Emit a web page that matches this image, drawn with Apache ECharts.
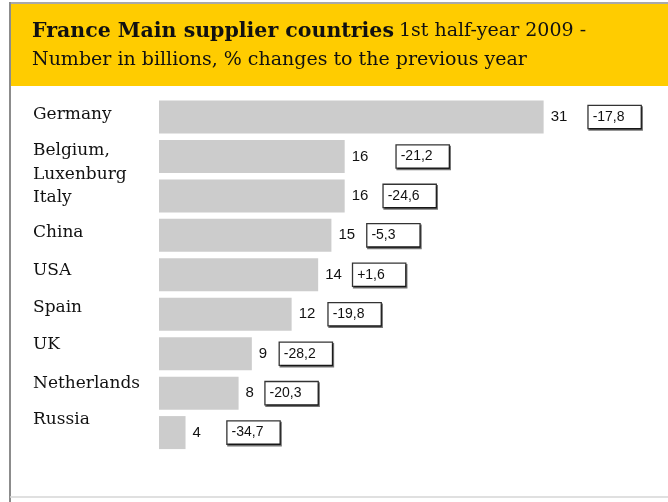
<!DOCTYPE html>
<html>
<head>
<meta charset="utf-8">
<script src="https://cdn.jsdelivr.net/npm/echarts@6/dist/echarts.min.js"></script>
<style>
  html, body { margin: 0; padding: 0; background: #fff; }
  #chart { width: 668px; height: 502px; }
</style>
</head>
<body>
<div id="chart"></div>
<script>
// Main supplier countries of France, 1st half-year 2009
const countries = ['Germany', 'Belgium, Luxenburg', 'Italy', 'China', 'USA', 'Spain', 'UK', 'Netherlands', 'Russia'];
const imports = [31, 16, 16, 15, 14, 12, 9, 8, 4];            // billions
const changes = [-17.8, -21.2, -24.6, -5.3, 1.6, -19.8, -28.2, -20.3, -34.7]; // % vs previous year

// Layout tweaks per row (pixels)
const labelShift = [-2, 6, 2, -2.5, -4, -7, -9, -10, -12.5]; // vertical nudge of country names
const numberSlot = [38, 45, 32, 29, 28, 30, 21, 20, 35];     // space between value and change box

function fmtChange(v) {
  const s = Math.abs(v).toFixed(1).replace('.', ',');
  return (v > 0 ? '+' : '-') + s;
}

const rich = {
  box: {
    fontFamily: 'Liberation Sans, Arial, sans-serif',
    fontSize: 14,
    color: '#111',
    width: 44,
    height: 20,
    lineHeight: 20,
    padding: [1, 4],
    align: 'left',
    backgroundColor: '#fff',
    borderColor: '#333',
    borderWidth: 1.3,
    shadowColor: 'rgba(0,0,0,0.55)',
    shadowOffsetX: 1,
    shadowOffsetY: 1.5,
    shadowBlur: 0
  }
};
numberSlot.forEach((w, i) => {
  rich['n' + i] = {
    fontFamily: 'Liberation Sans Narrow, Liberation Sans, Arial, sans-serif',
    fontSize: 15,
    color: '#111',
    width: w,
    align: 'left'
  };
});

const catRich = {};
labelShift.forEach((d, i) => {
  catRich['c' + i] = {
    fontFamily: 'DejaVu Serif, serif',
    fontSize: 17,
    lineHeight: 24,
    color: '#111',
    padding: d < 0 ? [0, 0, -2 * d, 0] : [2 * d, 0, 0, 0]
  };
});

const chart = echarts.init(document.getElementById('chart'), null, { renderer: 'canvas' });

chart.setOption({
  animation: false,
  backgroundColor: '#fff',
  graphic: [
    { type: 'rect', z: 0, silent: true, shape: { x: 10, y: 4, width: 658, height: 82 }, style: { fill: '#FFCC00' } },
    { type: 'line', z: 1, silent: true, shape: { x1: 10, y1: 3, x2: 668, y2: 3 }, style: { stroke: '#8c8c8c', lineWidth: 1.5 } },
    { type: 'line', z: 1, silent: true, shape: { x1: 10, y1: 2, x2: 10, y2: 502 }, style: { stroke: '#8c8c8c', lineWidth: 2 } },
    { type: 'line', z: 1, silent: true, shape: { x1: 10, y1: 497, x2: 668, y2: 497 }, style: { stroke: '#d6d6d6', lineWidth: 1.5 } }
  ],
  title: {
    z: 10,
    left: 27,
    top: 12,
    text: '{a|France Main supplier countries} {b|1st half-year 2009 -}\n{b|Number in billions, % changes to the previous year}',
    textStyle: {
      fontWeight: 'normal',
      rich: {
        a: { fontFamily: 'DejaVu Serif, serif', fontSize: 20.5, fontWeight: 'bold', color: '#111', lineHeight: 29 },
        b: { fontFamily: 'DejaVu Serif, serif', fontSize: 19, fontWeight: 'normal', color: '#111', lineHeight: 29 }
      }
    }
  },
  grid: { left: 159, right: 5, top: 97.3, height: 355, containLabel: false },
  xAxis: {
    type: 'value',
    min: 2,
    max: 40,
    show: false
  },
  yAxis: {
    type: 'category',
    inverse: true,
    data: countries,
    axisLine: { show: false },
    axisTick: { show: false },
    splitLine: { show: false },
    axisLabel: {
      align: 'left',
      margin: 126,
      formatter: (name, idx) => '{c' + idx + '|' + name.replace(', ', ',\n') + '}',
      rich: catRich
    }
  },
  series: [{
    type: 'bar',
    data: imports,
    barWidth: 33,
    clip: true,
    itemStyle: { color: '#CCCCCC' },
    label: {
      show: true,
      position: 'right',
      distance: 7,
      formatter: p => '{n' + p.dataIndex + '|' + p.value + '}{box|' + fmtChange(changes[p.dataIndex]) + '}',
      rich: rich
    }
  }]
});
</script>
</body>
</html>
